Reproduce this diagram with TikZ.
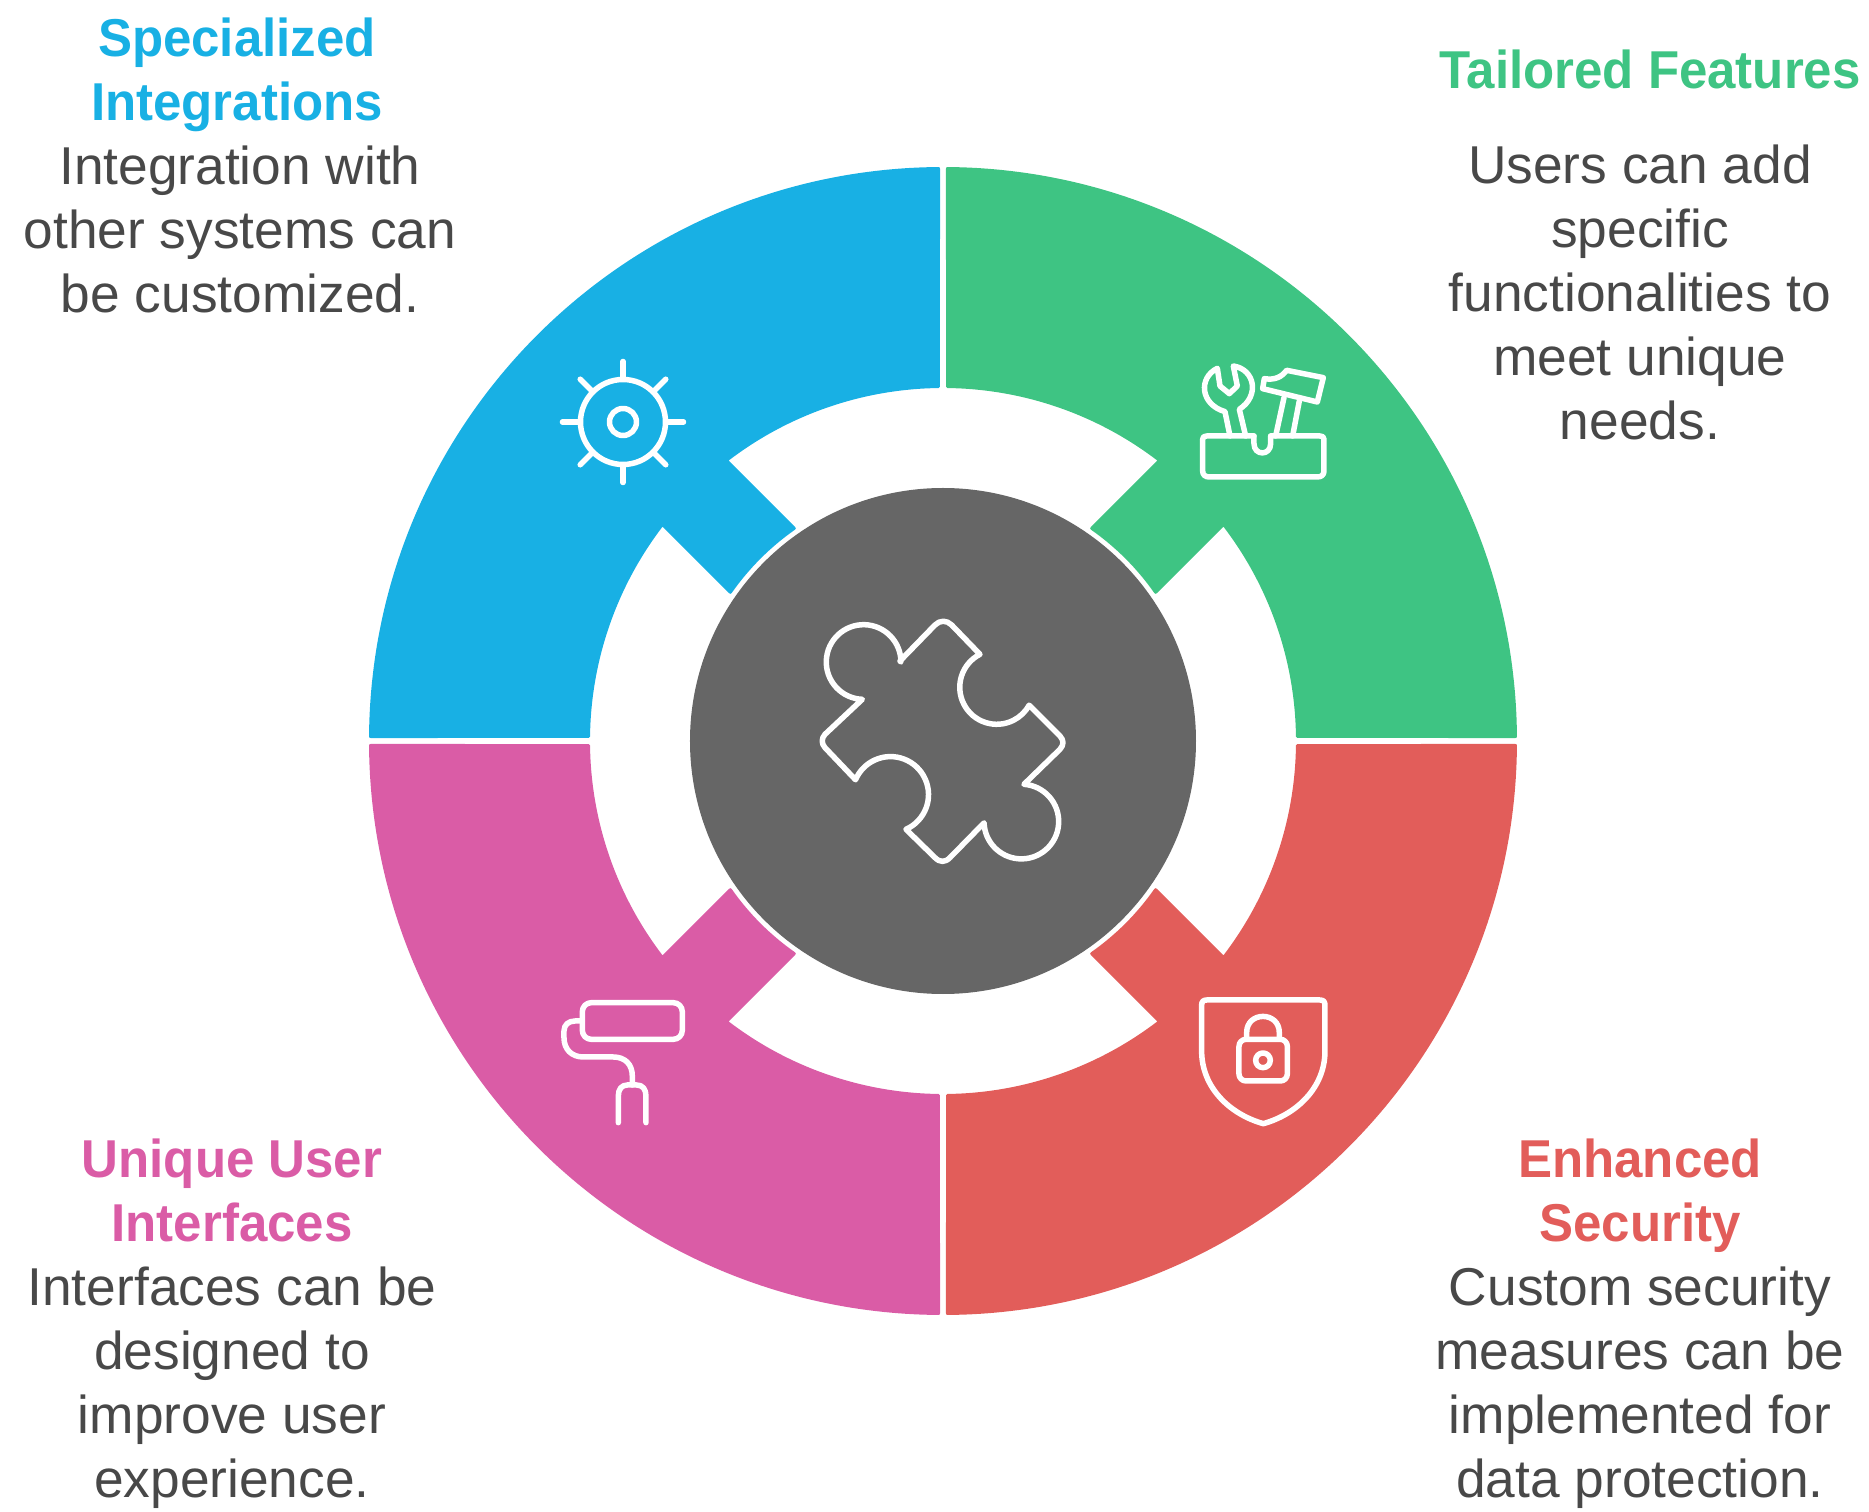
\documentclass[tikz,border=0pt]{standalone}
\usepackage{fontspec}
\usepackage{xcolor}
\setmainfont[BoldFeatures={FakeStretch=0.957}]{Liberation Sans}
\definecolor{secBlue}{HTML}{18B0E4}
\definecolor{secGreen}{HTML}{3EC483}
\definecolor{secRed}{HTML}{E25D5A}
\definecolor{secPink}{HTML}{DA5CA6}
\definecolor{hubGrey}{HTML}{666666}
\definecolor{bodyGrey}{HTML}{484848}
\tikzset{
    icon/.style={draw=white, line width=5.5pt, line cap=round, line join=round},
    title/.style={anchor=base, align=center, inner sep=0pt, font=\fontsize{53.3}{64}\selectfont\bfseries},
    body/.style={anchor=base, align=center, inner sep=0pt, text=bodyGrey, font=\fontsize{53.3}{64}\selectfont}
}
\begin{document}
\begin{tikzpicture}[x=1pt, y=1pt]
    \useasboundingbox (-943,-771) rectangle (926,741);

    \foreach \col/\ang in {secBlue/0, secGreen/-90, secRed/180, secPink/90} {
        \path[fill=\col, draw=\col, line width=3pt, line join=round, rotate=\ang]
            (90.45:572.5) arc (90.45:179.55:572.5) -- (179.27:354.5) arc (179.27:142.33:354.5)
            -- (145.03:259.5) arc (145.03:124.97:259.5) -- (127.67:354.5) arc (127.67:90.73:354.5) -- cycle;
    }

    \node[shape=circle, fill=hubGrey, minimum size=506pt, inner sep=0pt] (hub) at (0, 0) {};

    \node[title, text=secBlue] (blueTitle) at (-706, 620) {Specialized\\Integrations};
    \node[body] (blueBody) at (-703, 428) {Integration with\\other systems can\\be customized.};
    \node[title, text=secGreen] (greenTitle) at (707, 652) {Tailored Features};
    \node[body] (greenBody) at (697, 301) {Users can add\\specific\\functionalities to\\meet unique\\needs.};
    \node[title, text=secRed] (redTitle) at (697, -500) {Enhanced\\Security};
    \node[body] (redBody) at (697, -756) {Custom security\\measures can be\\implemented for\\data protection.};
    \node[title, text=secPink] (pinkTitle) at (-711, -500) {Unique User\\Interfaces};
    \node[body] (pinkBody) at (-711, -756) {Interfaces can be\\designed to\\improve user\\experience.};

    \coordinate (gear) at (-320, 319);
    \draw[icon] (gear) circle (42.5);
    \draw[icon] (gear) circle (13.5);
    \foreach \a in {0, 45, ..., 315} {
        \draw[icon] (gear) ++(\a:43) -- ++(\a:17.5);
    }

    \begin{scope}[shift={(237,400)}, x=0.3333pt, y=-0.3333pt]
        \draw[icon] (222,285) -- (80,285) .. controls (72,285) and (68,288) .. (68,295) -- (68,390) .. controls (68,402) and (76,408) .. (88,408)
            -- (412,408) .. controls (424,408) and (432,402) .. (432,390) -- (432,295) .. controls (432,288) and (428,285) .. (420,285) -- (272,285);
        \draw[icon] (222,285) -- (222,308) .. controls (222,345) and (272,345) .. (272,308) -- (272,285);
        \draw[icon] (150,285) -- (135,212) .. controls (60,190) and (55,110) .. (112,82) -- (120,135) -- (148,158) -- (172,135) -- (160,75)
            .. controls (225,85) and (240,165) .. (178,205) -- (197,285);
        \draw[icon] (248,143) -- (253,113) .. controls (285,118) and (305,108) .. (320,88) -- (430,110) -- (412,183) -- cycle;
        \draw[icon] (312,170) -- (287,285);
        \draw[icon] (358,180) -- (338,285);
    \end{scope}

    \begin{scope}[shift={(237,-240)}, x=0.3333pt, y=-0.3333pt]
        \draw[icon] (80,57) -- (420,57) .. controls (430,57) and (435,62) .. (435,72) -- (435,210)
            .. controls (435,320) and (350,400) .. (250,428) .. controls (150,400) and (65,320) .. (65,210) -- (65,72) .. controls (65,62) and (70,57) .. (80,57) -- cycle;
        \draw[icon, rounded corners=7pt] (177,175) rectangle (322,300);
        \draw[icon] (200,170) -- (200,155) .. controls (200,90) and (298,90) .. (298,155) -- (298,170);
        \draw[icon] (249,238) circle (22);
    \end{scope}

    \begin{scope}[shift={(-403,-240)}, x=0.3333pt, y=-0.3333pt]
        \draw[icon, rounded corners=9pt] (127,65) rectangle (427,175);
        \draw[icon] (127,120) -- (105,120) .. controls (85,120) and (72,132) .. (72,150) -- (72,170) .. controls (72,205) and (95,228) .. (130,228)
            -- (220,228) .. controls (255,228) and (277,250) .. (277,285) -- (277,312);
        \draw[icon] (235,425) -- (235,345) .. controls (235,325) and (245,312) .. (262,312) -- (290,312) .. controls (308,312) and (318,325) .. (318,345) -- (318,425);
    \end{scope}

    \begin{scope}[shift={(-143,140)}, x=0.3333pt, y=-0.3333pt]
        \draw[icon] (300,180) -- (405,72) .. controls (420,57) and (440,57) .. (455,72) -- (540,160) arc (-117:-331:111)
            -- (780,405) .. controls (792,418) and (792,432) .. (780,445) -- (672,550) arc (-86:178:112)
            -- (450,770) .. controls (435,785) and (420,785) .. (405,770) -- (318,685) arc (66:-157:114)
            -- (75,440) .. controls (64,428) and (64,412) .. (75,400) -- (187,295) arc (92:360:112) -- cycle;
    \end{scope}
\end{tikzpicture}
\end{document}
